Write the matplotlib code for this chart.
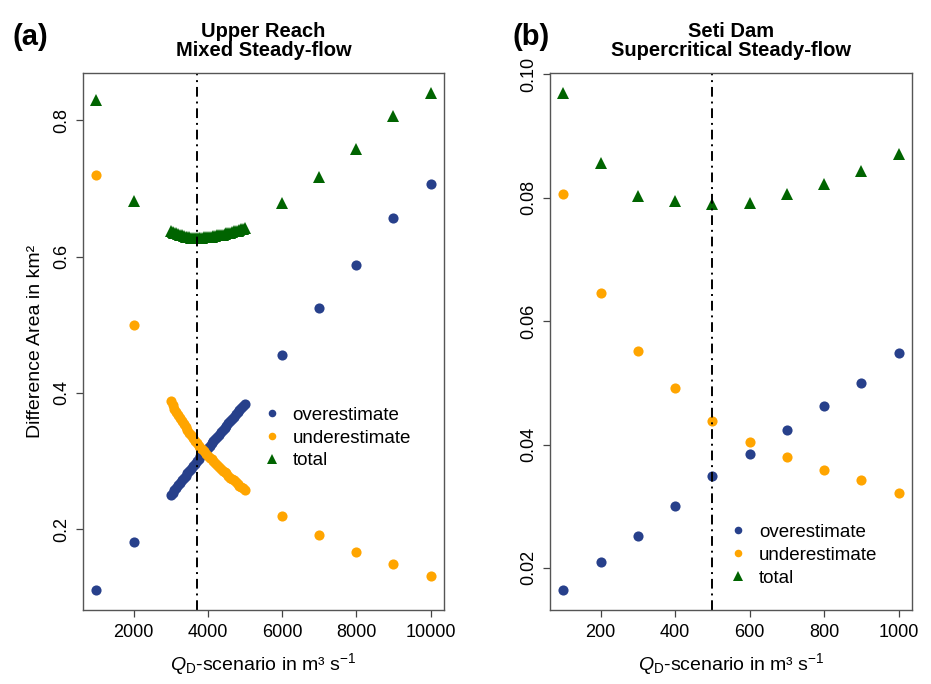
import numpy as np
import matplotlib
matplotlib.use("Agg")
import matplotlib.pyplot as plt

plt.rcParams['font.family'] = ['Liberation Sans', 'DejaVu Sans']
plt.rcParams['mathtext.fontset'] = 'custom'
plt.rcParams['mathtext.rm'] = 'Liberation Sans'
plt.rcParams['mathtext.it'] = 'Liberation Sans:italic'

# ---- panel (a): Upper Reach, mixed steady-flow ----
qa = [1000, 2000,
      3000, 3050, 3100, 3150, 3200, 3250, 3300, 3350, 3400, 3450,
      3500, 3550, 3600, 3650, 3700, 3750, 3800, 3850, 3900, 3950,
      4000, 4050, 4100, 4150, 4200, 4250, 4300, 4350, 4400, 4450,
      4500, 4550, 4600, 4650, 4700, 4750, 4800, 4850, 4900, 4950, 5000,
      6000, 7000, 8000, 9000, 10000]
over_a = [0.111, 0.182,
          0.250, 0.254, 0.258, 0.261, 0.265, 0.268, 0.272, 0.275, 0.279, 0.282,
          0.286, 0.289, 0.293, 0.296, 0.300, 0.303, 0.307, 0.310, 0.313, 0.317,
          0.320, 0.323, 0.326, 0.330, 0.333, 0.336, 0.339, 0.343, 0.346, 0.349,
          0.352, 0.356, 0.359, 0.362, 0.365, 0.369, 0.372, 0.375, 0.378, 0.381, 0.384,
          0.455, 0.524, 0.588, 0.657, 0.707]
under_a = [0.719, 0.500,
           0.388, 0.382, 0.377, 0.372, 0.368, 0.363, 0.359, 0.354, 0.350, 0.346,
           0.342, 0.338, 0.334, 0.330, 0.327, 0.323, 0.320, 0.318, 0.315, 0.311,
           0.308, 0.305, 0.303, 0.300, 0.297, 0.294, 0.292, 0.289, 0.286, 0.284,
           0.282, 0.279, 0.276, 0.274, 0.272, 0.269, 0.266, 0.264, 0.262, 0.260, 0.258,
           0.219, 0.192, 0.167, 0.149, 0.132]
total_a = [0.830, 0.681,
           0.638, 0.636, 0.635, 0.634, 0.633, 0.632, 0.631, 0.630, 0.629, 0.628,
           0.628, 0.627, 0.627, 0.627, 0.627, 0.627, 0.627, 0.627, 0.628, 0.628,
           0.628, 0.629, 0.629, 0.630, 0.630, 0.631, 0.631, 0.632, 0.632, 0.633,
           0.634, 0.634, 0.635, 0.636, 0.637, 0.637, 0.638, 0.639, 0.640, 0.641, 0.642,
           0.678, 0.717, 0.757, 0.806, 0.840]
best_a = 3700

# ---- panel (b): Seti Dam, supercritical steady-flow ----
qb = [100, 200, 300, 400, 500, 600, 700, 800, 900, 1000]
over_b = [0.0164, 0.0209, 0.0251, 0.0300, 0.0349, 0.0385, 0.0424, 0.0462, 0.0499, 0.0548]
under_b = [0.0806, 0.0645, 0.0551, 0.0492, 0.0438, 0.0404, 0.0380, 0.0358, 0.0342, 0.0321]
total_b = [0.0970, 0.0856, 0.0803, 0.0795, 0.0790, 0.0791, 0.0806, 0.0822, 0.0843, 0.0871]
best_b = 500

c_over = '#27408B'   # royalblue4
c_under = '#FFA500'  # orange
c_total = '#006400'  # darkgreen

W, H = 931, 684
fig = plt.figure(figsize=(W / 100, H / 100), dpi=100)
ax1 = fig.add_axes([83 / W, 1 - 610 / H, 361 / W, 537 / H])
ax2 = fig.add_axes([550 / W, 1 - 610 / H, 362 / W, 537 / H])


def panel(ax, q, over, under, total, best, xt, yt, yfmt, title, leg_xy):
    ax.plot(q, over, 'o', color=c_over, ms=7.3, mew=0, label='overestimate')
    ax.plot(q, under, 'o', color=c_under, ms=7.3, mew=0, label='underestimate')
    ax.plot(q, total, '^', color=c_total, ms=9, mew=0, label='total')
    ax.margins(x=0.04, y=0.04)
    ax.axvline(best, color='black', lw=1.4, ls=(0, (5, 2.5, 1, 2.5)))
    ax.set_xticks(xt)
    ax.set_yticks(yt)
    ax.set_yticklabels([yfmt % v for v in yt], rotation=90, va='center')
    ax.tick_params(direction='out', length=5, width=0.9, color='#444444',
                   labelsize=13, pad=5)
    ax.tick_params(axis='y', pad=4)
    for s in ax.spines.values():
        s.set_color('#555555')
        s.set_linewidth(1.0)
    ax.set_xlabel(r'$Q_{\mathrm{D}}$-scenario in m³ s$^{-1}$', fontsize=14, labelpad=7)
    ax.set_title(title, fontsize=14.5, fontweight='bold', pad=12, linespacing=1.05)
    ax.legend(loc='center left', bbox_to_anchor=leg_xy, frameon=False,
              fontsize=13.5, markerscale=0.75, handlelength=0.8,
              handletextpad=0.7, labelspacing=0.3, borderpad=0,
              borderaxespad=0)


panel(ax1, qa, over_a, under_a, total_a, best_a,
      [2000, 4000, 6000, 8000, 10000], [0.2, 0.4, 0.6, 0.8], '%.1f',
      'Upper Reach\nMixed Steady-flow', (0.503, 0.32))
panel(ax2, qb, over_b, under_b, total_b, best_b,
      [200, 400, 600, 800, 1000], [0.02, 0.04, 0.06, 0.08, 0.10], '%.2f',
      'Seti Dam\nSupercritical Steady-flow', (0.499, 0.102))

ax1.set_ylabel('Difference Area in km²', fontsize=14, labelpad=7)

fig.text(12 / W, 1 - 37 / H, '(a)', fontsize=21, fontweight='bold', va='center')
fig.text(512 / W, 1 - 37 / H, '(b)', fontsize=21, fontweight='bold', va='center')

fig.savefig('out.png', dpi=100)
